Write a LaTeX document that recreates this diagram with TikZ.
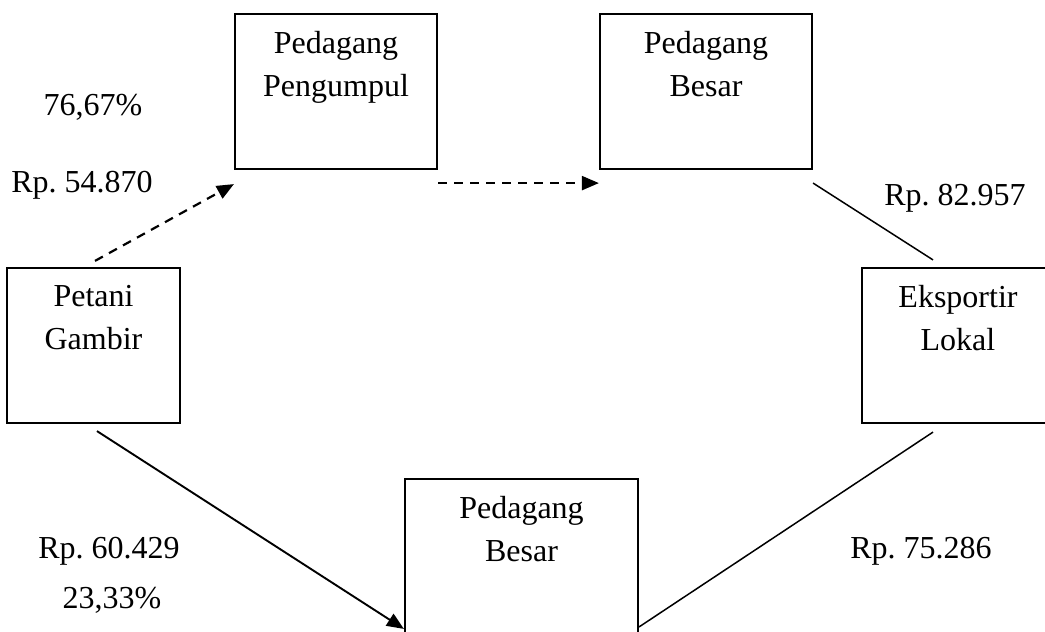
\documentclass[tikz,border=0pt]{standalone}
\usepackage{fontspec}
\setmainfont{Liberation Serif}
\frenchspacing
\usetikzlibrary{arrows.meta,calc,positioning}
\tikzset{>={Triangle[length=8.5pt,width=7pt]}}
\tikzset{
	box/.style={draw,line width=1.1pt,rectangle,minimum height=77.5pt,inner sep=0pt},
	boxtext/.style={align=center,inner sep=0pt,font=\fontsize{16}{21.5}\selectfont},
	price/.style={anchor=base,inner sep=0pt,font=\fontsize{16}{19}\selectfont},
	flow/.style={line width=0.75pt},
	dflow/.style={line width=1.1pt,dash pattern=on 4.5pt off 3.5pt}
}

\begin{document}
\begin{tikzpicture}[x=0.5pt,y=-0.5pt]
		\useasboundingbox (0,0) rectangle (1045,632);
		
		\node[box,minimum width=86.5pt] (petani) at (93.5,345.5) {};
		\node[box,minimum width=101pt] (pengumpul) at (336,91.5) {};
		\node[box,minimum width=106pt] (besarA) at (706,91.5) {};
		\node[box,minimum width=96pt] (eksportir) at (958,345.5) {};
		\node[box,minimum width=116.5pt] (besarB) at (521.5,556.5) {};
		
		\node[boxtext,below=9pt of petani.north] (petaniT) {Petani\\Gambir};
		\node[boxtext,below=9pt of pengumpul.north] (pengumpulT) {Pedagang\\Pengumpul};
		\node[boxtext,below=9pt of besarA.north] (besarAT) {Pedagang\\Besar};
		\node[boxtext,below=9pt of eksportir.north] (eksportirT) {Eksportir\\Lokal};
		\node[boxtext,below=9pt of besarB.north] (besarBT) {Pedagang\\Besar};
		
		\node[price] (persenA) at (93,115) {76,67\%};
		\node[price] (hargaA) at (82,192) {Rp. 54.870};
		\node[price] (hargaB) at (955,205) {Rp. 82.957};
		\node[price] (hargaC) at (109,558) {Rp. 60.429};
		\node[price] (persenB) at (112,608) {23,33\%};
		\node[price] (hargaD) at (921,558) {Rp. 75.286};
		
		\coordinate (p1) at ($(petani.north)+(1.5,-6)$);
		\coordinate (p2) at ($(pengumpul.south west)+(0,14)$);
		\coordinate (p3) at ($(pengumpul.south east)+(0,13)$);
		\coordinate (p4) at ($(besarA.south west)+(0,13)$);
		\coordinate (p5) at ($(besarA.south east)+(0,13)$);
		\coordinate (p6) at ($(eksportir.north)+(-25,-7)$);
		\coordinate (p7) at ($(petani.south)+(3.5,7)$);
		\coordinate (p8) at ($(besarB.north west)+(0,151)$);
		\coordinate (p9) at ($(besarB.north east)+(0,149)$);
		\coordinate (p10) at ($(eksportir.south)+(-25,8)$);
		
		\draw[dflow,->] (p1) -- (p2);
		\draw[dflow,->] (p3) -- (p4);
		\draw[flow] (p5) -- (p6);
		\draw[flow,line width=0.95pt,->] (p7) -- (p8);
		\draw[flow] (p9) -- (p10);
	\end{tikzpicture}
\end{document}
